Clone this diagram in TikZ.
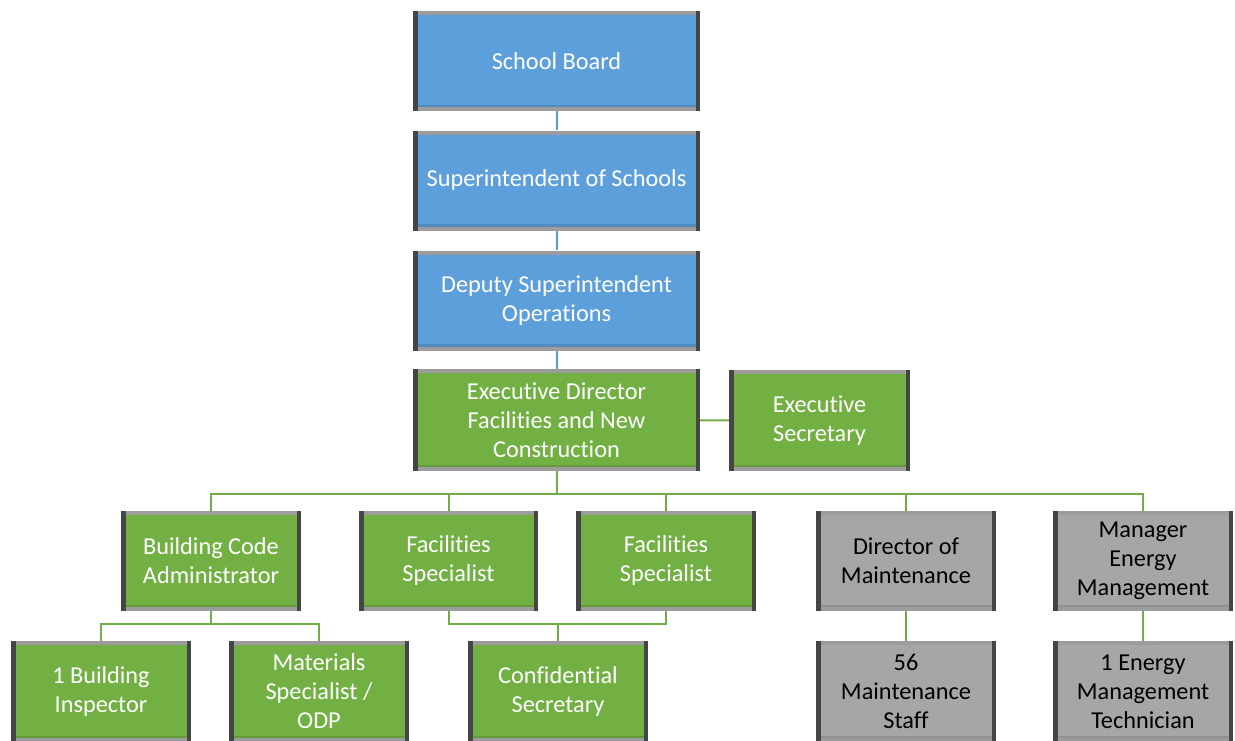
\documentclass[tikz,border=0pt]{standalone}
\usepackage{fontspec}
\setmainfont{Carlito}[RawFeature={-liga}]
\begin{document}
\definecolor{boxblue}{HTML}{5D9FDA}
\definecolor{boxgreen}{HTML}{72B043}
\definecolor{boxgray}{HTML}{A6A6A6}
\definecolor{bevdark}{HTML}{454545}
\definecolor{bevlight}{HTML}{9C9C9C}
\definecolor{lineblue}{HTML}{5B9BD5}
\definecolor{linegreen}{HTML}{70AD47}
\begin{tikzpicture}[x=1pt, y=-1pt,
  orgbox/.style={rectangle, inner sep=0pt, align=center,
    minimum width=180pt, minimum height=100pt,
    font=\fontsize{24.3pt}{29pt}\selectfont,
    path picture={
      \fill[bevlight] (path picture bounding box.north west) rectangle ([yshift=-4pt]path picture bounding box.north east);
      \fill[bevlight] (path picture bounding box.south west) rectangle ([yshift=4pt]path picture bounding box.south east);
      \fill[black, opacity=0.12] ([yshift=4pt]path picture bounding box.south west) rectangle ([yshift=6.5pt]path picture bounding box.south east);
      \fill[bevdark] (path picture bounding box.south west) rectangle ([xshift=4.5pt]path picture bounding box.north west);
      \fill[bevdark] (path picture bounding box.south east) rectangle ([xshift=-4.5pt]path picture bounding box.north east);
    }},
  bluebox/.style={orgbox, fill=boxblue, text=white, minimum width=287pt},
  greenbox/.style={orgbox, fill=boxgreen, text=white},
  graybox/.style={orgbox, fill=boxgray, text=black},
  bluelink/.style={draw=lineblue, line width=2pt},
  greenlink/.style={draw=linegreen, line width=2pt}]

\useasboundingbox (0,0) rectangle (1235,740);
\clip (0,0) rectangle (1235,740);

% levels used by the connector buses
\coordinate (busA) at (0,494);
\coordinate (busB) at (0,624);

% executive chain
\node[bluebox] (board)  at (556.5,61)  {School Board};
\node[bluebox] (super)  at (556.5,180.5) {Superintendent of Schools};
\node[bluebox] (deputy) at (556.5,300.5) {Deputy Superintendent\\Operations};
\node[greenbox, minimum width=287pt, minimum height=102pt] (execdir) at (556.5,420) {Executive Director\\Facilities and New\\Construction};
\node[greenbox, minimum width=181pt, minimum height=101pt] (execsec) at (819.5,420.5) {Executive\\Secretary};

% second tier
\node[greenbox] (bca) at (211,561)  {Building Code\\Administrator};
\node[greenbox, minimum width=179pt] (fsa) at (448.5,561) {Facilities\\Specialist};
\node[greenbox] (fsb) at (666,561)  {Facilities\\Specialist};
\node[graybox]  (dom) at (906,561)  {Director of\\Maintenance};
\node[graybox]  (mem) at (1143,561) {Manager\\Energy\\Management};

% third tier
\node[greenbox, minimum height=101pt] (insp)  at (101,691.5)  {1 Building\\Inspector};
\node[greenbox, minimum height=101pt] (mat)   at (319,691.5)  {Materials\\Specialist /\\ODP};
\node[greenbox, minimum height=101pt] (conf)  at (558,691.5)  {Confidential\\Secretary};
\node[graybox,  minimum height=101pt] (staff) at (906,691.5)  {56\\Maintenance\\Staff};
\node[graybox,  minimum height=101pt] (tech)  at (1143,691.5) {1 Energy\\Management\\Technician};

% connectors
\draw[bluelink] (board) -- (super);
\draw[bluelink] (super) -- (deputy);
\draw[bluelink] (deputy) -- (execdir);
\draw[greenlink] (execdir) -- (execsec);

\draw[greenlink] (execdir.south) -- (execdir.south |- busA) -| (bca.north);
\draw[greenlink] (execdir.south |- busA) -| (mem.north);
\draw[greenlink] (fsa.north |- busA) -- (fsa.north);
\draw[greenlink] (fsb.north |- busA) -- (fsb.north);
\draw[greenlink] (dom.north |- busA) -- (dom.north);

\draw[greenlink] (bca.south) -- (bca.south |- busB) -| (insp.north);
\draw[greenlink] (bca.south |- busB) -| (mat.north);

\draw[greenlink] (fsa.south) |- (fsb.south |- busB) -- (fsb.south);
\draw[greenlink] (conf.north |- busB) -- (conf.north);

\draw[greenlink] (dom) -- (staff);
\draw[greenlink] (mem) -- (tech);
\end{tikzpicture}
\end{document}
